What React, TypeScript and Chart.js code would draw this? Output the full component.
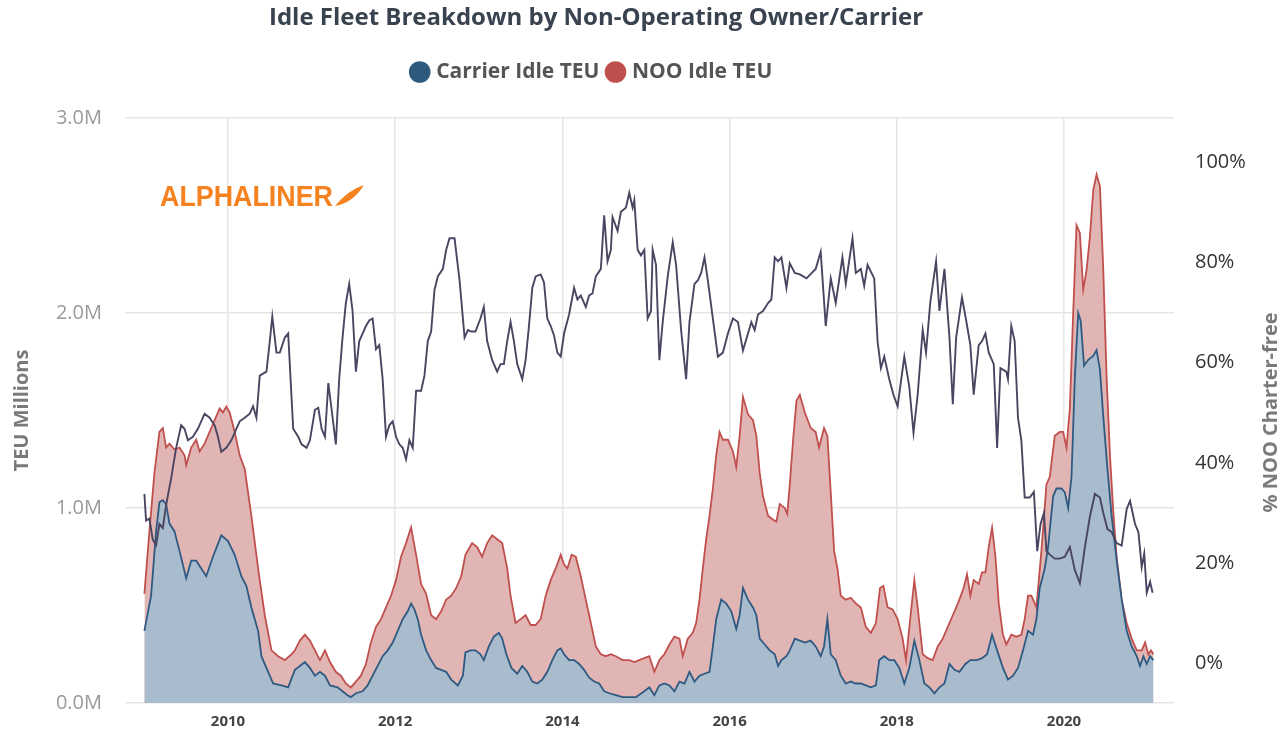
import React, { useEffect, useRef } from 'react';
import { Chart, registerables } from 'chart.js';

Chart.register(...registerables);

const carrierYears = [
  2009.00, 2009.08, 2009.14, 2009.18, 2009.22, 2009.26, 2009.30, 2009.36, 2009.42, 2009.50,
  2009.56, 2009.62, 2009.68, 2009.74, 2009.82, 2009.92, 2010.00, 2010.08, 2010.16, 2010.22,
  2010.28, 2010.36, 2010.40, 2010.48, 2010.54, 2010.64, 2010.72, 2010.80, 2010.86, 2010.92,
  2010.98, 2011.04, 2011.10, 2011.16, 2011.22, 2011.31, 2011.37, 2011.43, 2011.47, 2011.53,
  2011.61, 2011.67, 2011.73, 2011.79, 2011.85, 2011.91, 2011.97, 2012.03, 2012.09, 2012.15,
  2012.19, 2012.23, 2012.27, 2012.31, 2012.37, 2012.43, 2012.49, 2012.55, 2012.61, 2012.67,
  2012.75, 2012.81, 2012.84, 2012.90, 2012.96, 2013.02, 2013.06, 2013.12, 2013.18, 2013.24,
  2013.28, 2013.33, 2013.39, 2013.46, 2013.52, 2013.58, 2013.64, 2013.70, 2013.76, 2013.82,
  2013.88, 2013.94, 2013.98, 2014.02, 2014.08, 2014.14, 2014.20, 2014.26, 2014.32, 2014.38,
  2014.44, 2014.50, 2014.56, 2014.64, 2014.72, 2014.80, 2014.88, 2014.98, 2015.04, 2015.10,
  2015.16, 2015.22, 2015.28, 2015.34, 2015.40, 2015.46, 2015.52, 2015.58, 2015.64, 2015.70,
  2015.76, 2015.80, 2015.84, 2015.90, 2015.96, 2016.02, 2016.08, 2016.12, 2016.16, 2016.22,
  2016.28, 2016.32, 2016.36, 2016.42, 2016.48, 2016.54, 2016.58, 2016.62, 2016.68, 2016.72,
  2016.78, 2016.84, 2016.90, 2016.97, 2017.03, 2017.09, 2017.13, 2017.17, 2017.21, 2017.27,
  2017.33, 2017.39, 2017.45, 2017.51, 2017.57, 2017.63, 2017.69, 2017.75, 2017.79, 2017.85,
  2017.91, 2017.97, 2018.03, 2018.09, 2018.15, 2018.21, 2018.27, 2018.33, 2018.39, 2018.45,
  2018.51, 2018.57, 2018.63, 2018.69, 2018.75, 2018.82, 2018.88, 2018.96, 2019.02, 2019.08,
  2019.14, 2019.20, 2019.27, 2019.33, 2019.39, 2019.45, 2019.51, 2019.57, 2019.63, 2019.67,
  2019.71, 2019.77, 2019.81, 2019.87, 2019.91, 2019.97, 2020.01, 2020.05, 2020.09, 2020.13,
  2020.17, 2020.20, 2020.24, 2020.29, 2020.35, 2020.39, 2020.43, 2020.47, 2020.52, 2020.57,
  2020.63, 2020.69, 2020.75, 2020.81, 2020.87, 2020.91, 2020.95, 2020.99, 2021.03, 2021.07,
];
const carrierIdleTEU = [
  0.37, 0.55, 0.88, 1.03, 1.04, 1.02, 0.92, 0.88, 0.78, 0.64,
  0.73, 0.73, 0.69, 0.65, 0.75, 0.86, 0.83, 0.76, 0.65, 0.60,
  0.49, 0.37, 0.24, 0.16, 0.10, 0.09, 0.08, 0.17, 0.19, 0.21,
  0.18, 0.14, 0.16, 0.14, 0.09, 0.08, 0.06, 0.04, 0.03, 0.05,
  0.06, 0.09, 0.14, 0.19, 0.24, 0.27, 0.31, 0.37, 0.43, 0.47,
  0.51, 0.48, 0.43, 0.35, 0.27, 0.22, 0.18, 0.17, 0.16, 0.12,
  0.09, 0.14, 0.26, 0.27, 0.27, 0.25, 0.22, 0.29, 0.34, 0.36,
  0.33, 0.25, 0.18, 0.15, 0.19, 0.16, 0.11, 0.10, 0.12, 0.16,
  0.22, 0.27, 0.28, 0.25, 0.22, 0.22, 0.20, 0.17, 0.13, 0.11,
  0.10, 0.06, 0.05, 0.04, 0.03, 0.03, 0.03, 0.06, 0.08, 0.04,
  0.09, 0.10, 0.09, 0.06, 0.11, 0.10, 0.16, 0.11, 0.14, 0.15,
  0.16, 0.29, 0.43, 0.53, 0.51, 0.47, 0.38, 0.45, 0.59, 0.53,
  0.49, 0.45, 0.33, 0.30, 0.27, 0.25, 0.19, 0.22, 0.24, 0.27,
  0.33, 0.32, 0.31, 0.32, 0.29, 0.24, 0.29, 0.43, 0.25, 0.22,
  0.14, 0.10, 0.11, 0.10, 0.10, 0.09, 0.08, 0.09, 0.22, 0.24,
  0.22, 0.22, 0.18, 0.10, 0.18, 0.32, 0.22, 0.10, 0.08, 0.05,
  0.08, 0.10, 0.20, 0.17, 0.16, 0.20, 0.22, 0.22, 0.23, 0.25,
  0.35, 0.27, 0.18, 0.12, 0.14, 0.18, 0.27, 0.37, 0.35, 0.43,
  0.59, 0.69, 0.80, 1.06, 1.10, 1.10, 1.08, 1.00, 1.16, 1.67,
  2.00, 1.96, 1.73, 1.76, 1.78, 1.81, 1.71, 1.47, 1.20, 0.96,
  0.73, 0.53, 0.37, 0.29, 0.24, 0.19, 0.24, 0.20, 0.24, 0.22,
];

const nooYears = [
  2009.00, 2009.06, 2009.12, 2009.18, 2009.22, 2009.26, 2009.30, 2009.36, 2009.42, 2009.48,
  2009.50, 2009.56, 2009.62, 2009.66, 2009.72, 2009.78, 2009.84, 2009.90, 2009.94, 2009.98,
  2010.02, 2010.08, 2010.14, 2010.20, 2010.28, 2010.36, 2010.44, 2010.52, 2010.60, 2010.68,
  2010.76, 2010.80, 2010.86, 2010.92, 2010.98, 2011.04, 2011.10, 2011.16, 2011.22, 2011.29,
  2011.35, 2011.41, 2011.47, 2011.53, 2011.59, 2011.65, 2011.71, 2011.77, 2011.83, 2011.89,
  2011.95, 2012.01, 2012.07, 2012.13, 2012.19, 2012.25, 2012.31, 2012.37, 2012.43, 2012.49,
  2012.55, 2012.61, 2012.67, 2012.73, 2012.79, 2012.84, 2012.92, 2012.98, 2013.04, 2013.10,
  2013.16, 2013.22, 2013.28, 2013.34, 2013.38, 2013.44, 2013.50, 2013.56, 2013.62, 2013.68,
  2013.74, 2013.80, 2013.86, 2013.92, 2013.98, 2014.02, 2014.06, 2014.11, 2014.16, 2014.22,
  2014.28, 2014.34, 2014.40, 2014.46, 2014.52, 2014.58, 2014.64, 2014.72, 2014.80, 2014.86,
  2014.98, 2015.04, 2015.10, 2015.16, 2015.22, 2015.28, 2015.34, 2015.40, 2015.44, 2015.50,
  2015.56, 2015.60, 2015.64, 2015.68, 2015.72, 2015.76, 2015.80, 2015.84, 2015.88, 2015.92,
  2015.98, 2016.04, 2016.08, 2016.12, 2016.16, 2016.22, 2016.28, 2016.32, 2016.36, 2016.40,
  2016.46, 2016.52, 2016.56, 2016.60, 2016.66, 2016.69, 2016.72, 2016.76, 2016.80, 2016.84,
  2016.90, 2016.97, 2017.03, 2017.07, 2017.13, 2017.17, 2017.21, 2017.25, 2017.29, 2017.33,
  2017.39, 2017.45, 2017.51, 2017.57, 2017.63, 2017.69, 2017.75, 2017.80, 2017.84, 2017.89,
  2017.95, 2018.01, 2018.07, 2018.11, 2018.16, 2018.21, 2018.25, 2018.31, 2018.37, 2018.43,
  2018.49, 2018.55, 2018.61, 2018.67, 2018.73, 2018.80, 2018.84, 2018.88, 2018.92, 2018.98,
  2019.02, 2019.06, 2019.10, 2019.14, 2019.18, 2019.22, 2019.27, 2019.31, 2019.37, 2019.43,
  2019.49, 2019.53, 2019.57, 2019.61, 2019.67, 2019.73, 2019.79, 2019.83, 2019.89, 2019.95,
  2019.99, 2020.03, 2020.07, 2020.11, 2020.15, 2020.19, 2020.23, 2020.27, 2020.31, 2020.35,
  2020.39, 2020.43, 2020.47, 2020.51, 2020.55, 2020.59, 2020.63, 2020.69, 2020.75, 2020.81,
  2020.87, 2020.93, 2020.97, 2021.01, 2021.04, 2021.07,
];
const nooIdleTEU = [
  0.56, 0.88, 1.18, 1.39, 1.41, 1.31, 1.33, 1.30, 1.31, 1.27,
  1.22, 1.31, 1.35, 1.29, 1.33, 1.39, 1.45, 1.51, 1.49, 1.52,
  1.49, 1.39, 1.27, 1.20, 0.96, 0.69, 0.45, 0.27, 0.24, 0.22,
  0.25, 0.27, 0.32, 0.35, 0.32, 0.27, 0.22, 0.27, 0.21, 0.16,
  0.14, 0.10, 0.08, 0.11, 0.14, 0.20, 0.31, 0.39, 0.43, 0.49,
  0.55, 0.63, 0.75, 0.82, 0.90, 0.76, 0.61, 0.56, 0.45, 0.43,
  0.47, 0.53, 0.55, 0.59, 0.65, 0.76, 0.82, 0.80, 0.75, 0.82,
  0.86, 0.84, 0.82, 0.69, 0.55, 0.41, 0.43, 0.45, 0.40, 0.40,
  0.43, 0.55, 0.63, 0.69, 0.76, 0.71, 0.69, 0.76, 0.75, 0.65,
  0.53, 0.41, 0.29, 0.25, 0.24, 0.25, 0.24, 0.22, 0.22, 0.21,
  0.23, 0.24, 0.16, 0.22, 0.25, 0.30, 0.34, 0.33, 0.24, 0.33,
  0.36, 0.41, 0.53, 0.69, 0.84, 0.96, 1.10, 1.27, 1.39, 1.35,
  1.35, 1.29, 1.21, 1.37, 1.57, 1.48, 1.45, 1.37, 1.18, 1.06,
  0.96, 0.94, 0.93, 1.02, 1.00, 0.97, 1.12, 1.35, 1.55, 1.58,
  1.49, 1.41, 1.39, 1.31, 1.41, 1.37, 1.08, 0.78, 0.69, 0.55,
  0.53, 0.54, 0.51, 0.49, 0.39, 0.36, 0.41, 0.59, 0.60, 0.49,
  0.48, 0.43, 0.33, 0.22, 0.43, 0.63, 0.49, 0.25, 0.23, 0.22,
  0.29, 0.33, 0.39, 0.45, 0.51, 0.59, 0.66, 0.55, 0.63, 0.61,
  0.67, 0.67, 0.80, 0.90, 0.75, 0.51, 0.35, 0.30, 0.35, 0.34,
  0.35, 0.43, 0.55, 0.55, 0.49, 0.78, 1.12, 1.16, 1.37, 1.39,
  1.39, 1.31, 1.51, 2.00, 2.45, 2.41, 2.12, 2.22, 2.39, 2.63,
  2.71, 2.65, 2.22, 1.67, 1.27, 0.98, 0.75, 0.53, 0.41, 0.33,
  0.27, 0.27, 0.31, 0.25, 0.27, 0.25,
];

const charterYears = [
  2009.00, 2009.02, 2009.06, 2009.10, 2009.14, 2009.18, 2009.22, 2009.26, 2009.32, 2009.38,
  2009.44, 2009.48, 2009.52, 2009.58, 2009.64, 2009.72, 2009.78, 2009.84, 2009.88, 2009.92,
  2009.98, 2010.04, 2010.10, 2010.14, 2010.20, 2010.26, 2010.30, 2010.34, 2010.38, 2010.42,
  2010.46, 2010.50, 2010.53, 2010.58, 2010.62, 2010.68, 2010.72, 2010.78, 2010.84, 2010.88,
  2010.94, 2010.98, 2011.04, 2011.08, 2011.12, 2011.16, 2011.20, 2011.24, 2011.29, 2011.33,
  2011.37, 2011.41, 2011.45, 2011.49, 2011.53, 2011.57, 2011.61, 2011.65, 2011.69, 2011.73,
  2011.77, 2011.81, 2011.85, 2011.89, 2011.93, 2011.97, 2012.01, 2012.05, 2012.09, 2012.13,
  2012.17, 2012.21, 2012.25, 2012.31, 2012.35, 2012.39, 2012.43, 2012.47, 2012.51, 2012.57,
  2012.61, 2012.65, 2012.71, 2012.77, 2012.83, 2012.87, 2012.91, 2012.96, 2013.02, 2013.06,
  2013.10, 2013.16, 2013.22, 2013.26, 2013.30, 2013.34, 2013.38, 2013.42, 2013.46, 2013.52,
  2013.56, 2013.60, 2013.64, 2013.68, 2013.74, 2013.78, 2013.82, 2013.86, 2013.90, 2013.94,
  2013.98, 2014.02, 2014.08, 2014.14, 2014.18, 2014.22, 2014.28, 2014.32, 2014.36, 2014.40,
  2014.46, 2014.50, 2014.54, 2014.58, 2014.60, 2014.66, 2014.70, 2014.76, 2014.80, 2014.84,
  2014.86, 2014.90, 2014.94, 2014.98, 2015.02, 2015.06, 2015.08, 2015.12, 2015.16, 2015.20,
  2015.26, 2015.32, 2015.36, 2015.42, 2015.48, 2015.52, 2015.58, 2015.62, 2015.66, 2015.70,
  2015.74, 2015.80, 2015.86, 2015.92, 2015.98, 2016.04, 2016.10, 2016.16, 2016.22, 2016.26,
  2016.30, 2016.34, 2016.40, 2016.46, 2016.50, 2016.54, 2016.58, 2016.62, 2016.68, 2016.72,
  2016.78, 2016.84, 2016.92, 2017.03, 2017.09, 2017.15, 2017.21, 2017.27, 2017.35, 2017.39,
  2017.47, 2017.51, 2017.57, 2017.61, 2017.65, 2017.73, 2017.77, 2017.81, 2017.85, 2017.91,
  2017.96, 2018.01, 2018.09, 2018.15, 2018.20, 2018.25, 2018.31, 2018.35, 2018.40, 2018.47,
  2018.51, 2018.57, 2018.63, 2018.67, 2018.71, 2018.78, 2018.83, 2018.88, 2018.92, 2018.98,
  2019.02, 2019.06, 2019.10, 2019.16, 2019.20, 2019.24, 2019.31, 2019.33, 2019.37, 2019.41,
  2019.45, 2019.49, 2019.53, 2019.59, 2019.64, 2019.68, 2019.72, 2019.76, 2019.79, 2019.83,
  2019.89, 2019.95, 2020.01, 2020.07, 2020.13, 2020.19, 2020.25, 2020.31, 2020.37, 2020.43,
  2020.47, 2020.52, 2020.57, 2020.63, 2020.69, 2020.75, 2020.79, 2020.85, 2020.89, 2020.93,
  2020.96, 2020.99, 2021.03, 2021.06,
];
const charterFreeShare = [
  0.338, 0.285, 0.289, 0.247, 0.236, 0.278, 0.270, 0.316, 0.369, 0.430,
  0.475, 0.468, 0.445, 0.452, 0.468, 0.498, 0.490, 0.475, 0.452, 0.422,
  0.430, 0.445, 0.468, 0.483, 0.490, 0.498, 0.513, 0.490, 0.574, 0.578,
  0.582, 0.643, 0.692, 0.620, 0.620, 0.650, 0.658, 0.468, 0.452, 0.437,
  0.430, 0.445, 0.506, 0.510, 0.468, 0.452, 0.559, 0.506, 0.437, 0.567,
  0.650, 0.719, 0.757, 0.703, 0.582, 0.643, 0.658, 0.673, 0.684, 0.688,
  0.627, 0.635, 0.567, 0.452, 0.475, 0.483, 0.452, 0.437, 0.430, 0.407,
  0.445, 0.430, 0.544, 0.544, 0.574, 0.643, 0.662, 0.745, 0.772, 0.787,
  0.825, 0.848, 0.848, 0.764, 0.650, 0.665, 0.662, 0.662, 0.688, 0.711,
  0.643, 0.605, 0.582, 0.597, 0.597, 0.643, 0.681, 0.643, 0.597, 0.567,
  0.605, 0.673, 0.749, 0.772, 0.776, 0.760, 0.688, 0.673, 0.654, 0.620,
  0.612, 0.658, 0.696, 0.749, 0.726, 0.734, 0.711, 0.734, 0.738, 0.772,
  0.787, 0.894, 0.802, 0.825, 0.890, 0.863, 0.901, 0.909, 0.939, 0.909,
  0.924, 0.825, 0.814, 0.825, 0.688, 0.703, 0.825, 0.795, 0.605, 0.681,
  0.772, 0.840, 0.795, 0.665, 0.567, 0.681, 0.757, 0.764, 0.779, 0.810,
  0.764, 0.688, 0.612, 0.620, 0.658, 0.688, 0.681, 0.624, 0.658, 0.681,
  0.665, 0.696, 0.703, 0.719, 0.726, 0.810, 0.802, 0.810, 0.749, 0.798,
  0.779, 0.776, 0.768, 0.787, 0.821, 0.673, 0.768, 0.719, 0.810, 0.757,
  0.848, 0.779, 0.787, 0.753, 0.795, 0.768, 0.643, 0.589, 0.612, 0.567,
  0.536, 0.513, 0.612, 0.551, 0.460, 0.536, 0.665, 0.620, 0.719, 0.802,
  0.703, 0.787, 0.650, 0.517, 0.650, 0.730, 0.684, 0.635, 0.536, 0.635,
  0.643, 0.658, 0.620, 0.597, 0.430, 0.589, 0.582, 0.567, 0.673, 0.643,
  0.490, 0.445, 0.331, 0.331, 0.342, 0.224, 0.278, 0.300, 0.224, 0.217,
  0.209, 0.209, 0.213, 0.232, 0.186, 0.160, 0.232, 0.293, 0.338, 0.331,
  0.300, 0.268, 0.262, 0.240, 0.235, 0.308, 0.324, 0.278, 0.262, 0.192,
  0.219, 0.141, 0.163, 0.141,
];

const xTickYears = [2010, 2012, 2014, 2016, 2018, 2020];
const teuTicks = [0, 1, 2, 3];
const shareTicks = [0, 0.2, 0.4, 0.6, 0.8, 1.0];

const FONT = '"Open Sans", "Noto Sans", sans-serif';

const decorPlugin = {
  id: 'decor',
  afterLayout(chart: any) {
    const tb = chart.titleBlock;
    if (tb) tb.right = tb.left + 1192;
    if (chart.legend) chart.legend.right = chart.legend.left + 1186;
  },
  beforeDatasetsDraw(chart: any) {
    const ctx = chart.ctx as CanvasRenderingContext2D;
    ctx.save();
    ctx.fillStyle = '#f5821f';
    ctx.font = 'bold 30px "Liberation Sans", Arial, sans-serif';
    ctx.textBaseline = 'alphabetic';
    ctx.textAlign = 'left';
    ctx.fillText('ALPHALINER', 160, 206, 173);
    ctx.beginPath();
    ctx.moveTo(335, 206);
    ctx.quadraticCurveTo(353, 203, 364, 185);
    ctx.quadraticCurveTo(348, 190, 335, 206);
    ctx.closePath();
    ctx.fill();
    ctx.restore();
  },
  afterDraw(chart: any) {
    const ctx = chart.ctx as CanvasRenderingContext2D;
    const a = chart.chartArea;
    const midY = (a.top + a.bottom) / 2;
    ctx.save();
    ctx.font = `bold 20px ${FONT}`;
    ctx.fillStyle = '#7a7a7a';
    ctx.textAlign = 'center';
    ctx.textBaseline = 'middle';
    ctx.translate(22, midY);
    ctx.rotate(-Math.PI / 2);
    ctx.fillText('TEU Millions', 0, 0);
    ctx.restore();
    ctx.save();
    ctx.font = `bold 20px ${FONT}`;
    ctx.fillStyle = '#7a7a7a';
    ctx.textAlign = 'center';
    ctx.textBaseline = 'middle';
    ctx.translate(1271, midY + 2);
    ctx.rotate(-Math.PI / 2);
    ctx.fillText('% NOO Charter-free', 0, 0);
    ctx.restore();
  },
};

export default function App() {
  const ref = useRef<HTMLCanvasElement>(null);
  useEffect(() => {
    const canvas = ref.current;
    if (!canvas) return;
    const chart = new Chart(canvas, {
      type: 'line',
      data: {
        datasets: [
          {
            label: 'Carrier Idle TEU',
            data: carrierYears.map((x, i) => ({ x, y: carrierIdleTEU[i] })),
            yAxisID: 'y',
            borderColor: '#2e5a82',
            backgroundColor: '#a9bccd',
            pointBackgroundColor: '#2e5a7e',
            pointBorderColor: '#2e5a7e',
            fill: 'origin',
            borderWidth: 1.8,
            pointRadius: 0,
            tension: 0,
            order: 1,
          },
          {
            label: 'NOO Idle TEU',
            data: nooYears.map((x, i) => ({ x, y: nooIdleTEU[i] })),
            yAxisID: 'y',
            borderColor: '#c0504d',
            backgroundColor: '#e2b5b5',
            pointBackgroundColor: '#c0504d',
            pointBorderColor: '#c0504d',
            fill: 'origin',
            borderWidth: 1.8,
            pointRadius: 0,
            tension: 0,
            order: 2,
          },
          {
            label: '% NOO Charter-free',
            data: charterYears.map((x, i) => ({ x, y: charterFreeShare[i] })),
            yAxisID: 'y1',
            borderColor: '#4a4560',
            backgroundColor: '#4a4560',
            fill: false,
            borderWidth: 1.9,
            pointRadius: 0,
            tension: 0,
            order: 0,
          },
        ],
      } as any,
      options: {
        animation: false,
        responsive: false,
        events: [],
        layout: { padding: 0 },
        plugins: {
          tooltip: { enabled: false },
          title: {
            display: true,
            text: 'Idle Fleet Breakdown by Non-Operating Owner/Carrier',
            color: '#39424f',
            font: { family: FONT, size: 24, weight: 'bold' },
            padding: { top: 3.6, bottom: 19.1 },
          },
          subtitle: {
            display: true,
            text: '',
            font: { size: 1 },
            padding: { top: 0, bottom: 24.3 },
            weight: 500,
          } as any,
          legend: {
            display: true,
            position: 'top',
            labels: {
              usePointStyle: true,
              boxWidth: 12,
              boxHeight: 14,
              padding: 10,
              color: '#555',
              font: { family: FONT, size: 21, weight: 'bold' },
              filter: (item: any) => item.datasetIndex !== 2,
            },
          },
        },
        scales: {
          x: {
            type: 'linear',
            min: 2008.768,
            max: 2021.316,
            afterBuildTicks: (s: any) => {
              s.ticks = xTickYears.map((v) => ({ value: v }));
            },
            afterFit: (s: any) => {
              s.height = 33;
              s.paddingLeft = 0;
              s.paddingRight = 0;
            },
            ticks: {
              callback: (v: any) => String(v),
              color: '#444',
              font: { family: FONT, size: 15, weight: 'bold' },
              padding: 10,
              maxRotation: 0,
              autoSkip: false,
            },
            grid: { color: '#e6e6e6', lineWidth: 1.5, drawTicks: false },
            border: { display: false },
          },
          y: {
            type: 'linear',
            position: 'left',
            min: 0,
            max: 3,
            afterBuildTicks: (s: any) => {
              s.ticks = teuTicks.map((v) => ({ value: v }));
            },
            afterFit: (s: any) => {
              s.width = 125;
              s.paddingTop = 10;
              s.paddingBottom = 10;
            },
            ticks: {
              callback: (v: any) => Number(v).toFixed(1) + 'M',
              color: '#9a9a9a',
              font: { family: FONT, size: 20 },
              padding: 23,
            },
            grid: { color: '#e6e6e6', lineWidth: 1.5, drawTicks: false },
            border: { display: false },
          },
          y1: {
            type: 'linear',
            position: 'right',
            min: -0.079,
            max: 1.088,
            afterBuildTicks: (s: any) => {
              s.ticks = shareTicks.map((v) => ({ value: v }));
            },
            afterFit: (s: any) => {
              s.width = 107;
              s.paddingTop = 10;
              s.paddingBottom = 10;
            },
            ticks: {
              callback: (v: any) => Math.round(Number(v) * 100) + '%',
              color: '#333',
              font: { family: FONT, size: 20 },
              padding: 21,
            },
            grid: { display: false, drawTicks: false },
            border: { display: false },
          },
        },
      } as any,
      plugins: [decorPlugin],
    });
    return () => chart.destroy();
  }, []);
  return (
    <div style={{ position: 'fixed', left: 0, top: 0, width: 1281, height: 736, background: '#fff' }}>
      <canvas ref={ref} width={1281} height={736} style={{ display: 'block' }} />
    </div>
  );
}
